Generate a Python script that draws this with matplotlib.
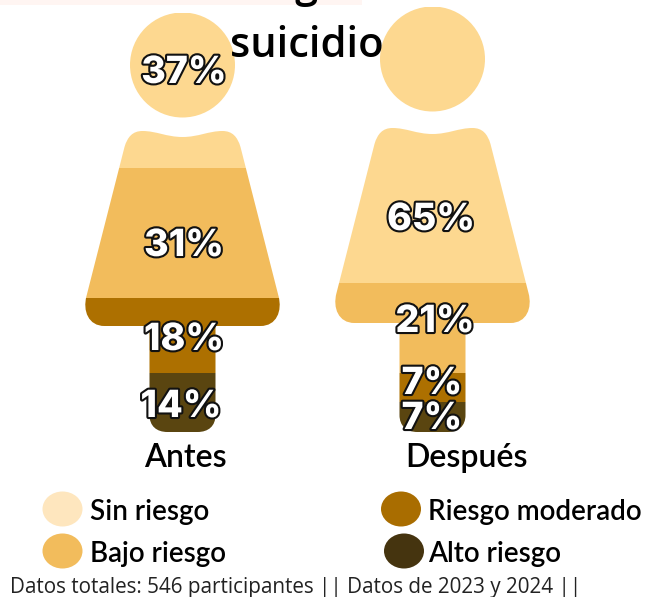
import matplotlib
matplotlib.use("Agg")
import matplotlib.pyplot as plt
import matplotlib.patheffects as pe
from matplotlib.patches import Ellipse, PathPatch, Rectangle
from matplotlib.path import Path

categories = ["Sin riesgo", "Bajo riesgo", "Riesgo moderado", "Alto riesgo"]
groups = ["Antes", "Después"]
antes = [37, 31, 18, 14]
despues = [65, 21, 7, 7]
colors = ["#FDD890", "#F2BC5C", "#AD7000", "#5A4510"]
legend_colors = ["#FEE6BE", "#F2BC5C", "#A96D00", "#45340F"]


def silhouette(cx, head_y, body_y, bottom):
    # left half of the body, going down from the neck dip, then mirrored
    body_h = body_y + 195
    left = [
        (0, body_y + 6, Path.MOVETO),
        (-16, body_y + 6, Path.CURVE4),
        (-26, body_y, Path.CURVE4),
        (-40, body_y, Path.CURVE4),
        (-50, body_y, Path.CURVE4),
        (-55, body_y + 6, Path.CURVE4),
        (-58, body_y + 16, Path.CURVE4),
        (-96, body_y + 165, Path.LINETO),
        (-100, body_y + 180, Path.CURVE4),
        (-94, body_h, Path.CURVE4),
        (-78, body_h, Path.CURVE4),
        (-33, body_h, Path.LINETO),
        (-33, bottom - 17, Path.LINETO),
        (-33, bottom - 6, Path.CURVE4),
        (-26, bottom, Path.CURVE4),
        (-15, bottom, Path.CURVE4),
    ]
    right = left[::-1]
    verts = [(cx + x, y) for x, y, c in left]
    codes = [c for x, y, c in left]
    verts.append((cx + 15, bottom))
    codes.append(Path.LINETO)
    for i in range(len(left) - 1):
        x, y, c = right[i + 1]
        verts.append((cx - x, y))
        # the code of a mirrored segment belongs to the point it ends on
        codes.append(right[i][2])
    verts.append((cx, body_y + 6))
    codes.append(Path.CLOSEPOLY)
    body = Path(verts, codes)
    head = Path.circle((cx, head_y), 52.5)
    return Path.make_compound_path(body, head)


fig = plt.figure(figsize=(6.45, 5.97), dpi=100)
ax = fig.add_axes([0, 0, 1, 1])
ax.set_xlim(0, 645)
ax.set_ylim(597, 0)
ax.axis("off")

ax.add_patch(Rectangle((0, 0), 362, 5, color="#FFF5F2", lw=0))
ax.text(306, -3, "g", fontsize=30, family="Open Sans", weight="semibold",
        ha="center", va="baseline", color="black")

figures = [
    (antes, 182.5, 65, 131, 13),
    (despues, 432.5, 59, 128, 7),
]
label_fx = [pe.Stroke(linewidth=3, foreground="#111111"), pe.Normal()]

for values, cx, head_y, body_y, top in figures:
    bottom = 432
    scale = (bottom - top) / sum(values)
    shape = PathPatch(silhouette(cx, head_y, body_y, bottom), fc="none", ec="none")
    ax.add_patch(shape)
    start = top
    for value, color in zip(values, colors):
        bars = ax.bar(cx, value * scale, width=210, bottom=start, color=color, lw=0)
        bars[0].set_clip_path(shape)
        start += value * scale

label_pos = [
    (antes, [(184, 69), (184, 242), (184, 336), (181, 403)]),
    (despues, [(431, 216), (435, 318), (432, 380), (432, 415)]),
]
for values, spots in label_pos:
    for value, (x, y) in zip(values, spots):
        ax.text(x, y, f"{value}%", fontsize=27, family="Inter", weight="heavy",
                color="white", ha="center", va="center_baseline", path_effects=label_fx)

ax.text(307, 57, "suicidio", fontsize=30, family="Open Sans", weight="semibold",
        ha="center", va="baseline", color="black")

ax.text(185, 467, groups[0], fontsize=23, family="Lato", weight="semibold", ha="center", va="baseline")
ax.text(466, 467, groups[1], fontsize=23, family="Lato", weight="semibold", ha="center", va="baseline")

legend_spots = [(62.5, 509, 40, 90), (62.5, 551, 40, 90), (401, 509, 40, 428), (404, 551, 40, 428)]
for name, color, (x, y, w, tx) in zip(categories, legend_colors, legend_spots):
    ax.add_patch(Ellipse((x, y), w, 35, color=color, lw=0))
    ax.text(tx, y + 11, name, fontsize=20, family="Lato", weight="semibold", ha="left", va="baseline")

ax.text(10, 593, "Datos totales: 546 participantes || Datos de 2023 y 2024 ||", fontsize=14.9,
        family="Open Sans", color="#222222", ha="left", va="baseline")

fig.savefig("out.png", dpi=100)
